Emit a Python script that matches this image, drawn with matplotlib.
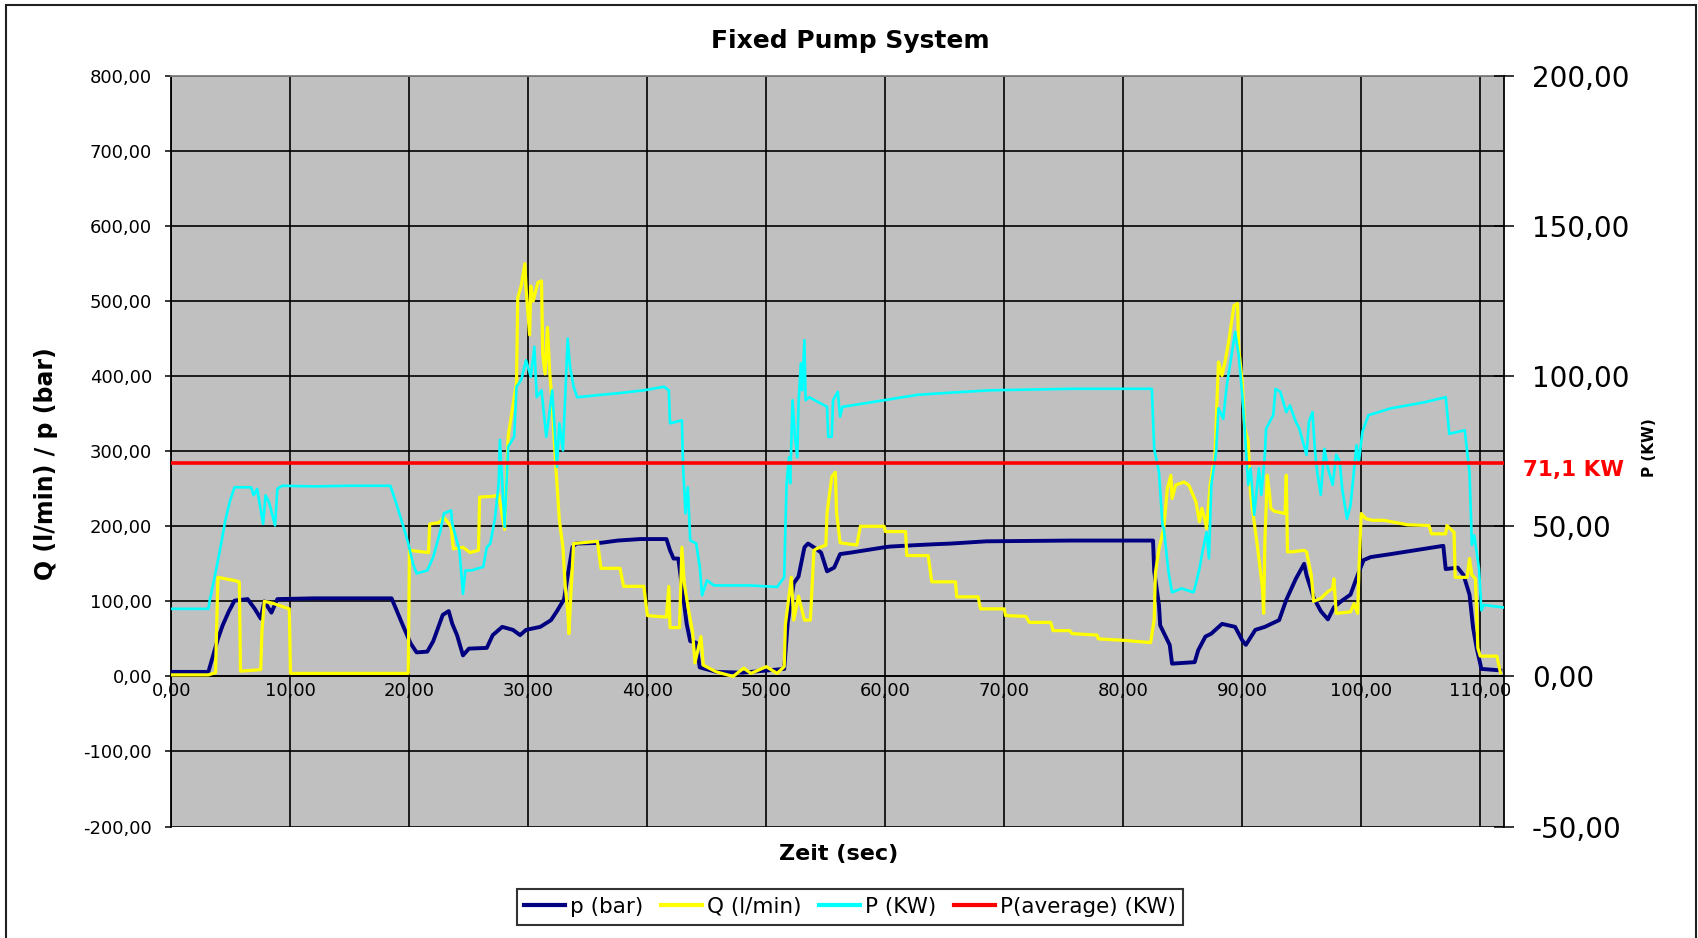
import matplotlib
matplotlib.use("Agg")
import matplotlib.pyplot as plt
from matplotlib.patches import Rectangle
from matplotlib.ticker import FuncFormatter

# --- Daten ---
# p (bar), linke Achse
t_p = [0.0, 3.1, 3.5, 3.9, 4.3, 4.8, 5.3, 6.4, 7.0, 7.5, 7.8, 8.4, 8.9, 12.0, 16.0, 18.5,
       19.5, 20.1, 20.6, 21.5, 22.0, 22.8, 23.3, 23.6, 24.0, 24.5, 25.0, 26.5, 27.0, 27.8,
       28.7, 29.3, 29.8, 31.0, 31.9, 32.4, 33.0, 33.3, 33.7, 34.0, 36.1, 37.5, 39.4, 41.6,
       41.9, 42.2, 42.6, 43.3, 43.6, 44.1, 44.4, 45.8, 48.0, 51.5, 51.8, 52.3, 52.7, 53.2,
       53.5, 54.0, 54.6, 55.1, 55.7, 56.2, 57.1, 59.9, 60.4, 62.7, 64.0, 65.5, 68.5, 75.6,
       82.5, 82.6, 83.0, 83.1, 83.5, 83.9, 84.1, 86.0, 86.3, 86.9, 87.4, 88.3, 89.4, 90.0,
       90.3, 91.1, 91.9, 93.1, 93.7, 94.5, 95.2, 95.4, 96.0, 96.6, 97.2, 97.7, 98.3, 99.1,
       99.7, 100.2, 100.8, 102.5, 105.3, 106.9, 107.1, 108.1, 108.6, 109.1, 109.4, 109.7,
       110.1, 111.7]
p_bar = [6, 6, 28, 50, 68, 86, 101, 103, 90, 77, 100, 85, 103, 104, 104, 104,
         66, 44, 32, 33, 47, 82, 87, 70, 55, 28, 37, 38, 55, 66,
         62, 55, 62, 66, 75, 87, 103, 134, 172, 177, 178, 181, 183, 183,
         168, 157, 157, 70, 47, 45, 12, 6, 5, 10, 72, 124, 133, 172,
         177, 172, 165, 140, 145, 163, 165, 172, 173, 175, 176, 177, 180, 181,
         181, 140, 95, 68, 55, 42, 17, 19, 35, 53, 57, 70, 66, 48,
         42, 62, 66, 75, 102, 130, 150, 135, 105, 87, 76, 92, 100, 109,
         135, 155, 159, 163, 170, 174, 143, 145, 135, 109, 65, 38,
         10, 8]

# Q (l/min), linke Achse
t_q = [0.0, 3.1, 3.7, 3.9, 5.2, 5.7, 5.8, 7.5, 7.6, 7.8, 8.6, 9.9, 10.0, 19.9, 20.0,
       21.6, 21.7, 22.5, 22.9, 23.5, 23.7, 24.5, 25.1, 25.8, 25.9, 27.1, 27.5, 28.0, 28.3,
       29.0, 29.1, 29.4, 29.7, 29.8, 30.1, 30.2, 30.4, 30.8, 31.1, 31.2, 31.4, 31.6, 31.8,
       32.0, 32.3, 32.4, 32.6, 32.9, 33.1, 33.3, 33.4, 33.6, 33.8, 35.8, 36.1, 37.7, 38.0,
       39.7, 40.0, 41.6, 41.8, 41.9, 42.7, 42.9, 43.1, 43.4, 43.8, 44.0, 44.5, 44.7, 45.8,
       47.2, 48.1, 48.7, 50.0, 50.9, 51.5, 51.6, 52.1, 52.3, 52.7, 53.2, 53.7, 54.0, 54.2,
       55.0, 55.1, 55.5, 55.8, 55.9, 56.2, 57.6, 57.9, 59.9, 60.0, 61.7, 61.8, 63.6, 63.9,
       65.9, 66.0, 67.8, 68.0, 70.0, 70.1, 71.8, 72.1, 73.9, 74.1, 75.5, 75.7, 77.8, 77.9,
       80.1, 82.3, 82.6, 82.7, 83.0, 83.4, 83.7, 84.0, 84.1, 84.4, 85.1, 85.5, 86.1, 86.4,
       86.6, 86.9, 87.0, 87.3, 87.7, 88.0, 88.3, 88.6, 88.9, 89.3, 89.6, 89.7, 90.0, 90.2,
       90.5, 90.7, 91.0, 91.3, 91.7, 91.8, 91.9, 92.1, 92.3, 92.4, 92.7, 93.6, 93.7, 93.8,
       94.2, 95.2, 95.4, 95.8, 96.0, 96.6, 97.2, 97.6, 97.7, 97.9, 99.1, 99.4, 99.7, 99.8,
       100.0, 100.4, 100.9, 101.9, 103.9, 105.7, 105.9, 107.1, 107.2, 107.8, 107.9, 108.9,
       109.1, 109.3, 109.6, 109.8, 110.0, 111.4, 111.7]
q_lmin = [2, 2, 5, 132, 128, 126, 7, 9, 60, 100, 97, 90, 4, 4, 168,
          165, 203, 205, 212, 199, 170, 172, 165, 168, 239, 240, 242, 196, 320,
          392, 504, 521, 550, 517, 455, 520, 500, 525, 527, 430, 403, 465, 403,
          363, 279, 257, 208, 172, 119, 88, 57, 119, 177, 180, 144, 144, 120,
          120, 81, 79, 120, 65, 65, 172, 124, 94, 59, 18, 53, 15, 6,
          0, 11, 4, 13, 4, 13, 69, 132, 75, 107, 75, 75, 168, 170,
          175, 218, 266, 272, 218, 178, 175, 200, 200, 193, 193, 161, 161, 126,
          126, 106, 106, 90, 90, 81, 80, 72, 72, 61, 61, 57, 55, 50,
          48, 45, 76, 138, 170, 197, 250, 268, 237, 255, 259, 255, 233, 206,
          224, 206, 197, 255, 294, 419, 401, 423, 450, 494, 497, 437, 393, 331,
          313, 242, 206, 170, 117, 84, 179, 268, 242, 224, 220, 217, 268, 166,
          166, 168, 166, 135, 100, 104, 113, 117, 130, 84, 86, 97, 84, 140,
          217, 210, 208, 208, 202, 201, 190, 190, 201, 192, 132, 132,
          157, 135, 130, 38, 27, 27, 5]

# P (KW), rechte Achse
t_P = [0.0, 3.1, 3.2, 3.8, 4.2, 4.5, 4.9, 5.3, 6.7, 6.9, 7.2, 7.7, 7.9, 8.2, 8.7, 8.9,
       9.3, 12.0, 15.0, 18.4, 18.9, 19.5, 19.9, 20.3, 20.6, 21.5, 22.0, 22.6, 22.9, 23.5,
       23.6, 24.2, 24.5, 24.7, 25.2, 26.2, 26.5, 26.8, 27.2, 27.5, 27.6, 27.8, 28.0, 28.3,
       28.8, 29.0, 29.4, 29.8, 30.2, 30.5, 30.7, 31.1, 31.5, 31.8, 32.0, 32.4, 32.6, 32.9,
       33.3, 33.5, 33.8, 34.1, 36.1, 37.5, 39.7, 41.4, 41.8, 41.9, 42.9, 43.0, 43.2, 43.4,
       43.6, 44.1, 44.4, 44.6, 45.0, 45.6, 48.6, 50.9, 51.5, 51.6, 51.7, 51.9, 52.0, 52.2,
       52.4, 52.6, 52.7, 52.9, 53.0, 53.2, 53.3, 53.6, 55.1, 55.2, 55.5, 55.6, 56.0, 56.2,
       56.4, 59.9, 62.7, 65.4, 68.8, 75.6, 82.4, 82.6, 83.0, 83.3, 83.4, 83.8, 84.1, 84.9,
       85.9, 86.0, 86.4, 86.7, 87.0, 87.2, 87.4, 87.8, 88.0, 88.4, 88.7, 89.1, 89.4, 89.7,
       90.0, 90.2, 90.5, 90.7, 91.0, 91.4, 91.6, 91.9, 92.0, 92.6, 92.8, 93.2, 93.7, 94.0,
       94.5, 94.8, 95.4, 95.6, 95.9, 96.1, 96.3, 96.6, 96.9, 97.2, 97.6, 97.9, 98.2, 98.4,
       98.8, 99.1, 99.6, 99.8, 100.1, 100.4, 100.6, 102.5, 105.3, 107.1, 107.4, 108.7,
       109.0, 109.1, 109.3, 109.5, 109.9, 110.1, 110.3, 111.9]
P_kw = [22.5, 22.5, 25.0, 36.5, 44.8, 51.5, 58.3, 63.0, 63.0, 60.3, 62.5, 50.8, 60.3, 58.0, 50.3, 62.5,
        63.5, 63.3, 63.5, 63.5, 57.5, 49.8, 44.3, 37.5, 34.3, 35.3, 39.8, 48.5, 54.3, 55.3,
        50.8, 42.0, 27.5, 35.3, 35.3, 36.5, 43.0, 44.3, 53.0, 64.3, 78.8, 64.3, 49.8, 76.5,
        79.8, 96.5, 98.8, 105.3, 99.8, 109.8, 93.0, 95.3, 79.8, 88.8, 95.3, 69.8, 84.3, 75.3,
        112.5, 103.0, 96.5, 93.0, 93.8, 94.3, 95.3, 96.5, 95.3, 84.3, 85.3, 69.8, 54.3, 63.0,
        45.3, 44.3, 36.5, 27.0, 32.0, 30.3, 30.3, 29.8, 33.0, 49.8, 64.3, 73.0, 64.3, 92.0,
        79.8, 73.0, 90.8, 104.3, 95.3, 112.0, 92.0, 93.0, 89.8, 79.8, 79.8, 92.0, 94.8, 86.5,
        89.8, 92.0, 93.8, 94.5, 95.3, 95.8, 95.8, 75.8, 68.0, 50.3, 49.3, 34.8, 28.0, 29.3,
        28.0, 29.3, 35.8, 42.5, 48.0, 39.3, 63.8, 74.8, 89.3, 85.8, 97.0, 107.0, 114.8, 107.0,
        93.8, 82.5, 63.8, 69.3, 53.8, 69.3, 60.5, 73.8, 82.5, 87.0, 95.8, 94.8, 88.0, 90.3,
        84.8, 82.5, 73.8, 84.8, 88.0, 75.8, 68.0, 60.5, 75.8, 69.3, 63.8, 73.8, 71.5, 62.5,
        52.5, 57.0, 77.0, 71.5, 81.5, 84.8, 87.0, 89.3, 91.3, 93.0, 80.8, 82.0,
        71.5, 68.0, 43.8, 47.0, 35.8, 22.0, 23.8, 23.0]

P_avg = 71.1

x_ticks = list(range(0, 111, 10))
left_ticks = list(range(-200, 801, 100))
right_ticks = list(range(-50, 201, 50))


def komma(v, pos=None):
    return f"{v:.2f}".replace(".", ",")


W, H = 1699, 938
fig = plt.figure(figsize=(W / 100, H / 100), dpi=100)
fig.patch.set_facecolor("white")

ax = fig.add_axes([171.5 / W, 1 - 826.5 / H, (1504 - 171.5) / W, (826.5 - 76) / H])
ax2 = ax.twinx()

ax.set_facecolor("#c0c0c0")
ax2.patch.set_visible(False)

# Linien
l1, = ax.plot(t_p, p_bar, color="#000080", lw=2.8, label="p (bar)", zorder=3)
l2, = ax.plot(t_q, q_lmin, color="#ffff00", lw=2.3, label="Q (l/min)", zorder=4)
l3, = ax2.plot(t_P, P_kw, color="#00ffff", lw=1.9, label="P (KW)", zorder=3)
l4 = ax2.axhline(P_avg, color="#ff0000", lw=2.6, label="P(average) (KW)", zorder=4)

# Achsen
ax.set_xlim(0, 112.0)
ax.set_ylim(-200, 800)
ax2.set_ylim(-50, 200)

ax.set_xticks(x_ticks)
ax.set_yticks(left_ticks)
ax2.set_yticks(right_ticks)
ax.xaxis.set_major_formatter(FuncFormatter(komma))
ax.yaxis.set_major_formatter(FuncFormatter(komma))
ax2.yaxis.set_major_formatter(FuncFormatter(komma))

ax.set_axisbelow(True)
ax.grid(True, color="black", lw=1.2)

ax.spines["bottom"].set_position(("data", 0))
ax.spines["bottom"].set_color("black")
ax.spines["bottom"].set_linewidth(1.2)
ax.spines["top"].set_color("#808080")
ax.spines["top"].set_linewidth(1.3)
ax.spines["left"].set_color("black")
ax.spines["left"].set_linewidth(1.3)
ax.spines["right"].set_visible(False)
for s in ["top", "left", "bottom"]:
    ax2.spines[s].set_visible(False)
ax2.spines["right"].set_color("black")
ax2.spines["right"].set_linewidth(1.3)

ax.tick_params(axis="x", length=0, labelsize=13, pad=4)
ax.tick_params(axis="y", direction="out", length=4.6, width=1.1, labelsize=13, pad=9.5)
ax2.tick_params(axis="y", direction="inout", length=14, width=1.1, labelsize=20, pad=13)

# Texte
fig.text(850.5 / W, 1 - 41 / H, "Fixed Pump System", ha="center", va="center",
         fontsize=18, fontweight="bold")
fig.text(839 / W, 1 - 854 / H, "Zeit (sec)", ha="center", va="center",
         fontsize=16, fontweight="bold")
fig.text(46 / W, 1 - 464 / H, "Q (l/min) / p (bar)", ha="center", va="center",
         rotation=90, fontsize=17, fontweight="bold")
fig.text(1650 / W, 1 - 448 / H, "P (KW)", ha="center", va="center",
         rotation=90, fontsize=11, fontweight="bold")
ax2.annotate("71,1 KW", xy=(1.0518, P_avg), xycoords=ax2.get_yaxis_transform(),
             xytext=(0, -5), textcoords="offset points", ha="center", va="center",
             color="#ff0000", fontsize=15.5, fontweight="bold", annotation_clip=False)

leg = fig.legend([l1, l2, l3, l4], [l.get_label() for l in [l1, l2, l3, l4]],
                 loc="center", bbox_to_anchor=(850 / W, 1 - 907 / H), ncol=4,
                 frameon=True, fancybox=False, shadow=False, edgecolor="black",
                 fontsize=15.5, handlelength=1.9, handletextpad=0.25,
                 columnspacing=0.8, borderpad=0.35)
leg.get_frame().set_linewidth(1.5)
for h in leg.legend_handles:
    h.set_linewidth(3)

# Rahmen
fig.patches.append(Rectangle((6.5 / W, -0.05), (1696 - 6.5) / W, 1.05 - 5.5 / H,
                             transform=fig.transFigure, fill=False,
                             edgecolor="#202020", lw=1.5))

fig.savefig("out.png", dpi=100)
